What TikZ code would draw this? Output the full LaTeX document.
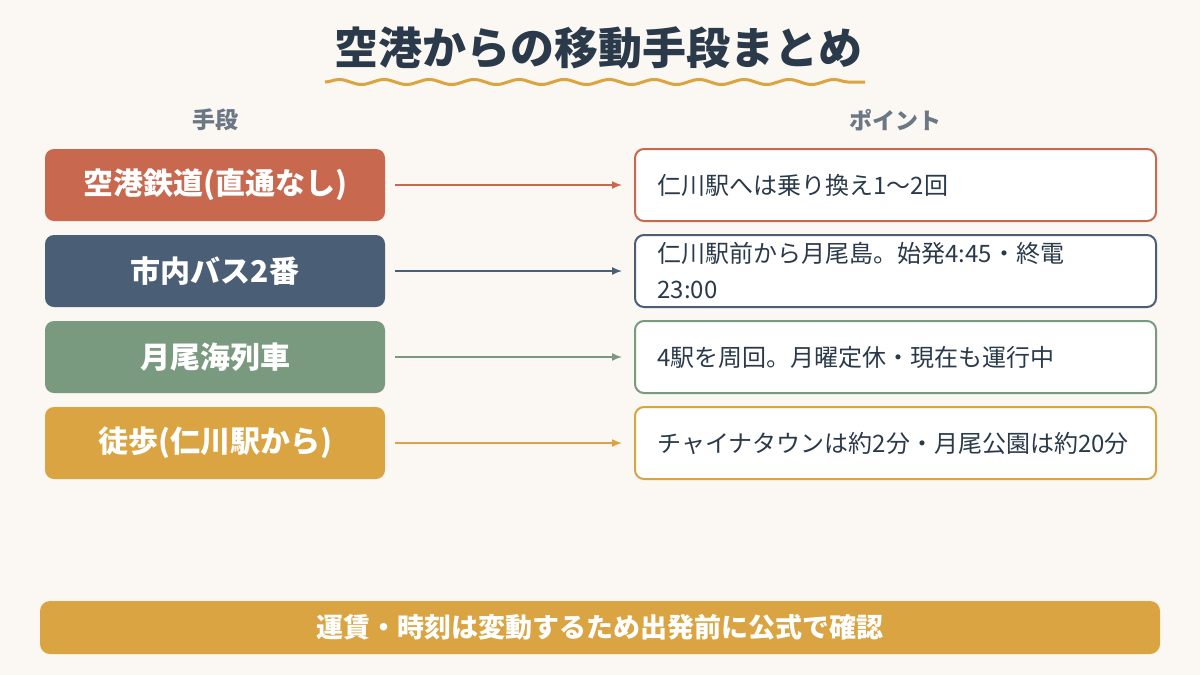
\documentclass[tikz,border=0pt]{standalone}
\usepackage{fontspec}
\setmainfont{Noto Sans CJK JP}
\usetikzlibrary{decorations.pathmorphing,arrows.meta}
\definecolor{bg}{HTML}{FBF7F2}
\definecolor{ink}{HTML}{2B3A4A}
\definecolor{gr}{HTML}{6B7785}
\definecolor{cR}{HTML}{C8694F}
\definecolor{cB}{HTML}{4A5E75}
\definecolor{cG}{HTML}{7A9A80}
\definecolor{cY}{HTML}{D9A441}
\begin{document}
\begin{tikzpicture}[x=1pt,y=-1pt,
 lbox/.style={rounded corners=9pt,minimum width=340pt,minimum height=72pt,text=white,font=\fontsize{30}{36}\selectfont\bfseries,inner sep=0},
 rbox/.style={rounded corners=9pt,fill=white,line width=2pt,minimum width=521pt,minimum height=72pt,inner sep=0},
 rtxt/.style={anchor=west,align=left,text=ink,font=\fontsize{24}{36}\selectfont},
 arr/.style={line width=1.5pt,-{Latex[length=10pt,width=8pt]}},
 hd/.style={text=gr,font=\fontsize{23}{28}\selectfont\bfseries}]
\fill[bg] (0,0) rectangle (1200,675);
\useasboundingbox (0,0) rectangle (1200,675);
\node[text=ink,font=\fontsize{44}{50}\selectfont\bfseries] (title) at (598,48) {空港からの移動手段まとめ};
\draw[cY,line width=3pt,decorate,decoration={snake,amplitude=2.5pt,segment length=45pt}] (325,82) -- (865,82);
\node[hd] (h1) at (215,120) {手段};
\node[hd] (h2) at (895,120) {ポイント};
\foreach \i/\y/\c/\l/\r in {1/185/cR/空港鉄道(直通なし)/仁川駅へは乗り換え1～2回,
 2/271/cB/市内バス2番/{仁川駅前から月尾島。始発4:45・終電\\23:00},
 3/357/cG/月尾海列車/4駅を周回。月曜定休・現在も運行中,
 4/443/cY/徒歩(仁川駅から)/チャイナタウンは約2分・月尾公園は約20分}{
 \node[lbox,fill=\c] (L\i) at (215,\y) {\l};
 \node[rbox,draw=\c] (R\i) at (895.5,\y) {};
 \node[rtxt] (T\i) at (654,\y) {\r};
 \draw[arr,\c] ([xshift=10pt]L\i.east) -- ([xshift=-12pt]R\i.west);
}
\node[fill=cY,rounded corners=10pt,minimum width=1120pt,minimum height=53pt,text=white,font=\fontsize{27}{32}\selectfont\bfseries] (foot) at (600,627.5) {運賃・時刻は変動するため出発前に公式で確認};
\end{tikzpicture}
\end{document}
